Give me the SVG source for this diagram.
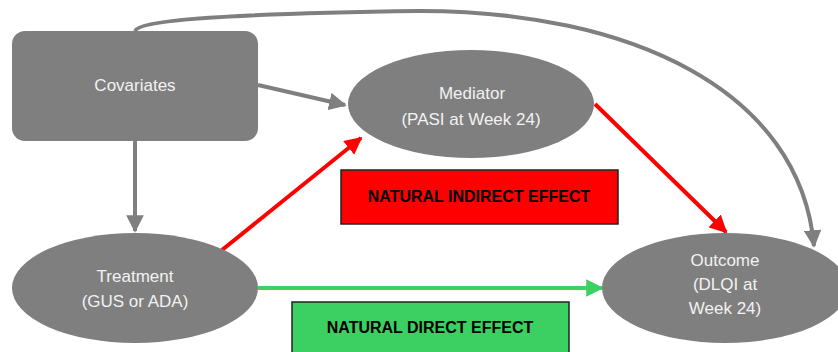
<svg xmlns="http://www.w3.org/2000/svg" width="838" height="352" viewBox="0 0 838 352">
<style>
.node{fill:#7f7f7f}
.nt{fill:#f2f2f2;font-family:"Liberation Sans",Arial,sans-serif;font-size:17px;text-anchor:middle}
.bt{fill:#000;font-family:"Liberation Sans",Arial,sans-serif;font-size:16px;font-weight:bold;text-anchor:middle}
.g{stroke:#7f7f7f;stroke-width:4;fill:none}
.r{stroke:#ff0000;stroke-width:4;fill:none}
.gr{stroke:#3ccf62;stroke-width:4;fill:none}
</style>
<defs>
<marker id="ag" viewBox="0 0 10 10" refX="9" refY="5" markerWidth="4.4" markerHeight="4.4" orient="auto" markerUnits="strokeWidth"><path d="M0,0 L10,5 L0,10 z" fill="#7f7f7f"/></marker>
<marker id="ar" viewBox="0 0 10 10" refX="9" refY="5" markerWidth="4.4" markerHeight="4.4" orient="auto" markerUnits="strokeWidth"><path d="M0,0 L10,5 L0,10 z" fill="#ff0000"/></marker>
<marker id="agr" viewBox="0 0 10 10" refX="9" refY="5" markerWidth="4.4" markerHeight="4.4" orient="auto" markerUnits="strokeWidth"><path d="M0,0 L10,5 L0,10 z" fill="#3ccf62"/></marker>
</defs>
<rect width="838" height="352" fill="#fff"/>
<g id="connectors">
<path class="g" d="M135,31 C138,22 200,14 420,11 C630,11 800,90 814,246" marker-end="url(#ag)"/>
<path class="g" d="M258,85 L345,105" marker-end="url(#ag)"/>
<path class="g" d="M135,141 L135,231" marker-end="url(#ag)"/>
<path class="r" d="M222,250 L361,138" marker-end="url(#ar)"/>
<path class="r" d="M595,104 L726,232" marker-end="url(#ar)"/>
<path class="gr" d="M258,288 L602,288" marker-end="url(#agr)"/>
</g>
<g id="covariates">
<rect class="node" x="12" y="31" width="246" height="110" rx="13"/>
<text class="nt" x="135" y="91">Covariates</text>
</g>
<g id="mediator">
<ellipse class="node" cx="471" cy="104" rx="123" ry="54"/>
<text class="nt" x="472" y="99">Mediator</text>
<text class="nt" x="471" y="125">(PASI at Week 24)</text>
</g>
<g id="treatment">
<ellipse class="node" cx="135" cy="288" rx="123" ry="55"/>
<text class="nt" x="135" y="282">Treatment</text>
<text class="nt" x="135" y="307">(GUS or ADA)</text>
</g>
<g id="outcome">
<ellipse class="node" cx="725" cy="288" rx="123" ry="55"/>
<text class="nt" x="725" y="266">Outcome</text>
<text class="nt" x="725" y="290">(DLQI at</text>
<text class="nt" x="725" y="314">Week 24)</text>
</g>
<g id="indirect">
<rect x="341" y="170" width="277" height="54" fill="#ff0000" stroke="#222" stroke-width="1.5"/>
<text class="bt" x="479" y="202">NATURAL INDIRECT EFFECT</text>
</g>
<g id="direct">
<rect x="292" y="302" width="277" height="52" fill="#3ccf62" stroke="#222" stroke-width="1.5"/>
<text class="bt" x="430" y="333">NATURAL DIRECT EFFECT</text>
</g>
</svg>
